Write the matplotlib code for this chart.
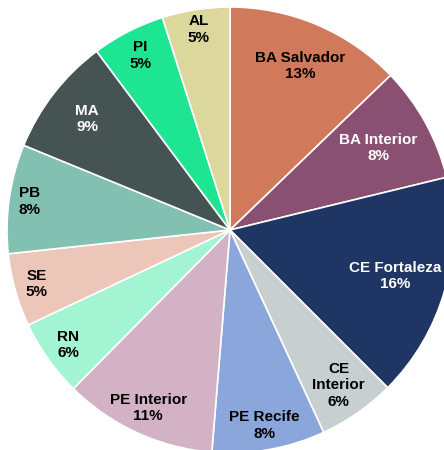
import matplotlib.pyplot as plt
import numpy as np

plt.rcParams['font.family'] = ['Liberation Sans', 'DejaVu Sans']

# dados
labels = ['BA Salvador', 'BA Interior', 'CE Fortaleza', 'CE\nInterior', 'PE Recife',
          'PE Interior', 'RN', 'SE', 'PB', 'MA', 'PI', 'AL']
values = [12.8, 8.4, 16.3, 5.6, 8.2, 11.1, 5.6, 5.3, 7.9, 8.6, 5.3, 4.9]
colors = ['#D07A5B', '#8A5072', '#1F3664', '#C8CFD0', '#8BA6DA', '#D3B2C6',
          '#A2F4D2', '#EDC6BA', '#82C0B2', '#455352', '#1DE591', '#DCD79C']
txt_colors = ['black', 'white', 'white', 'black', 'black', 'black',
              'black', 'black', 'black', 'white', 'black', 'black']
lab_r = [0.80, 0.76, 0.77, 0.85, 0.89, 0.88, 0.89, 0.90, 0.91, 0.81, 0.88, 0.91]

W, H = 444, 450
cx, cy, R = 230, 230, 223

fig = plt.figure(figsize=(W / 100, H / 100), dpi=100)
ax = fig.add_axes([0, 0, 1, 1])

ax.pie(values, colors=colors, startangle=90, counterclock=False, radius=1,
       wedgeprops=dict(edgecolor='white', linewidth=1.2))

total = sum(values)
cum = 0
for lab, v, c, r in zip(labels, values, txt_colors, lab_r):
    mid = (cum + v / 2) / total * 2 * np.pi
    cum += v
    x = r * np.sin(mid)
    y = r * np.cos(mid)
    ax.text(x, y, '%s\n%d%%' % (lab, round(v)), ha='center', va='center',
            color=c, fontsize=11, fontweight='bold', linespacing=1.2)

ax.set_xlim(-cx / R, (W - cx) / R)
ax.set_ylim(-(H - cy) / R, cy / R)
ax.set_aspect('equal')
ax.axis('off')

fig.savefig('out.png', dpi=100)
